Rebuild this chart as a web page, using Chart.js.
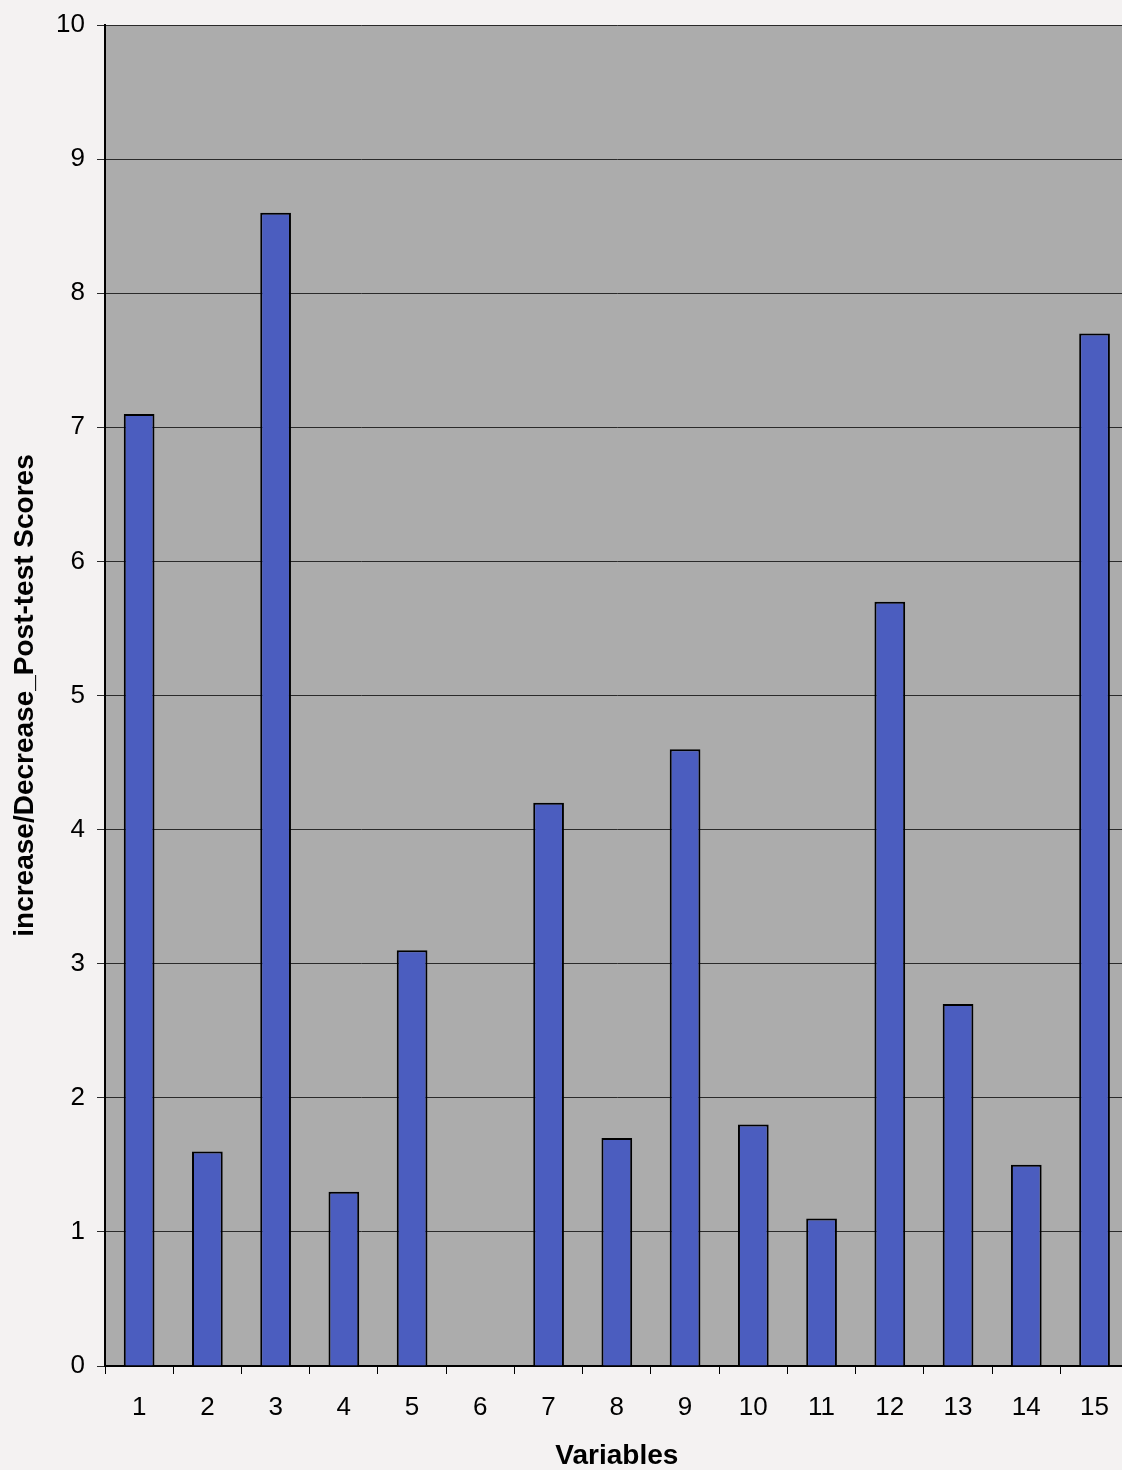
<!DOCTYPE html>
<html>
<head>
<meta charset="utf-8">
<script src="https://cdn.jsdelivr.net/npm/chart.js@4/dist/chart.umd.min.js"></script>
<style>
  html, body { margin: 0; padding: 0; background: #f4f2f2; overflow: hidden; }
  #wrap { width: 1130px; height: 1470px; }
</style>
</head>
<body>
<div id="wrap"><canvas id="myChart"></canvas></div>
<script>
// data
const variables = ['1', '2', '3', '4', '5', '6', '7', '8', '9', '10', '11', '12', '13', '14', '15'];
const scoreChange = [7.1, 1.6, 8.6, 1.3, 3.1, 0, 4.2, 1.7, 4.6, 1.8, 1.1, 5.7, 2.7, 1.5, 7.7];
const yTicks = [0, 1, 2, 3, 4, 5, 6, 7, 8, 9, 10];

// gray plot area behind the bars
const plotBackground = {
  id: 'plotBackground',
  beforeDraw(chart) {
    const {ctx, chartArea} = chart;
    ctx.save();
    ctx.fillStyle = '#acacac';
    ctx.fillRect(chartArea.left, chartArea.top, chartArea.right - chartArea.left, chartArea.bottom - chartArea.top);
    ctx.restore();
  }
};

Chart.defaults.font.family = '"Liberation Sans", Arial, sans-serif';
Chart.defaults.color = '#000';

const myChart = new Chart(document.getElementById('myChart'), {
  type: 'bar',
  data: {
    labels: variables,
    datasets: [{
      label: 'Increase/Decrease',
      data: scoreChange,
      backgroundColor: '#4b5dbf',
      borderColor: '#000',
      borderWidth: 2,
      categoryPercentage: 1,
      barPercentage: 0.45
    }]
  },
  options: {
    responsive: true,
    maintainAspectRatio: false,
    animation: false,
    layout: { padding: { top: 24, right: 0, left: 0, bottom: 0 } },
    plugins: {
      legend: { display: false },
      tooltip: { enabled: false }
    },
    scales: {
      x: {
        grid: { drawOnChartArea: false, offset: true, color: '#000', tickLength: 8, lineWidth: 1 },
        border: { color: '#000', width: 2 },
        ticks: { font: { size: 26, lineHeight: 1 }, padding: 21, maxRotation: 0 },
        title: { display: true, text: 'Variables', font: { size: 28, weight: 'bold', lineHeight: 1 }, padding: { top: 0, bottom: 0 } },
        afterFit(scale) { scale.height = 104; }
      },
      y: {
        min: 0,
        max: 10,
        afterBuildTicks(scale) { scale.ticks = yTicks.map(v => ({ value: v })); },
        grid: { color: '#2a2a2a', lineWidth: 1, tickLength: 8 },
        border: { color: '#000', width: 2 },
        ticks: { font: { size: 26, lineHeight: 1 }, padding: 12 },
        title: { display: true, text: 'increase/Decrease_Post-test Scores', font: { size: 28, weight: 'bold' }, padding: { top: 8, bottom: 0 } },
        afterFit(scale) { scale.width = 105; }
      }
    }
  },
  plugins: [plotBackground]
});
</script>
</body>
</html>
